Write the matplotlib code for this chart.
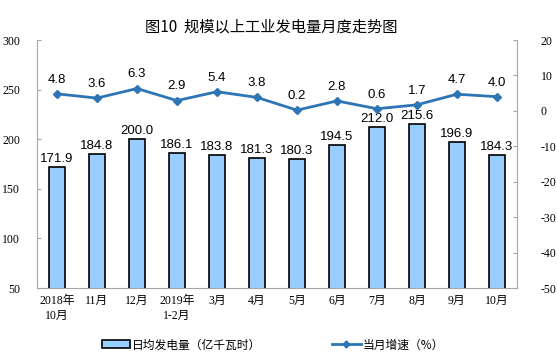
import matplotlib.pyplot as plt
import numpy as np
from matplotlib.lines import Line2D
from matplotlib.patches import Patch

# Data
months = ["2018年\n10月", "11月", "12月", "2019年\n1-2月", "3月", "4月",
          "5月", "6月", "7月", "8月", "9月", "10月"]
daily_output = [171.9, 184.8, 200.0, 186.1, 183.8, 181.3,
                180.3, 194.5, 212.0, 215.6, 196.9, 184.3]
growth = [4.8, 3.6, 6.3, 2.9, 5.4, 3.8, 0.2, 2.8, 0.6, 1.7, 4.7, 4.0]

plt.rcParams["font.family"] = ["Liberation Serif", "Noto Sans CJK SC"]
plt.rcParams["axes.unicode_minus"] = False

bar_color = "#99ccff"
line_color = "#2e75b6"
axis_gray = "#a6a6a6"

fig = plt.figure(figsize=(5.57, 3.62), dpi=100)
ax = fig.add_axes([0.0664, 0.2044, 0.8616, 0.6851])
ax2 = ax.twinx()

x = np.arange(len(months))
ax.bar(x, daily_output, width=0.4, color=bar_color, edgecolor="black",
       linewidth=1.2, zorder=2)
for xi, v in zip(x, daily_output):
    ax.text(xi, v + 2, "%.1f" % v, ha="center", va="bottom", fontsize=9.5,
            family=["Liberation Sans"])

ax2.plot(x, growth, color=line_color, lw=2, marker="D", ms=4.5, zorder=3)
for xi, v in zip(x, growth):
    ax2.text(xi, v + 2.3, "%.1f" % v, ha="center", va="bottom", fontsize=9.5,
             family=["Liberation Sans"])

ax.set_xlim(-0.5, len(months) - 0.5)
ax.set_ylim(50, 300)
ax.set_yticks(np.arange(50, 301, 50))
ax2.set_ylim(-50, 20)
ax2.set_yticks(np.arange(-50, 21, 10))
ax.set_xticks(x)
ax.set_xticklabels(months, fontsize=8.5, linespacing=1.3)

for a in (ax, ax2):
    for s in a.spines.values():
        s.set_visible(False)
    a.tick_params(axis="y", direction="in", length=3, color=axis_gray,
                  labelsize=8.5)
ax.tick_params(axis="y", pad=12)
ax2.tick_params(axis="y", pad=17)
ax.spines["left"].set_visible(True)
ax.spines["left"].set_color(axis_gray)
ax.spines["bottom"].set_visible(True)
ax.spines["bottom"].set_color(axis_gray)
ax2.spines["right"].set_visible(True)
ax2.spines["right"].set_color(axis_gray)
ax.tick_params(axis="x", length=0, pad=5)

fig.text(0.487, 0.925, "图10  规模以上工业发电量月度走势图", ha="center",
         va="center", fontsize=11, fontweight="medium",
         family=["Noto Sans CJK SC"])

handles = [Patch(facecolor=bar_color, edgecolor="black", linewidth=1.2),
           Line2D([], [], color=line_color, lw=2, marker="D", ms=3.5)]
labels = ["日均发电量（亿千瓦时）", "当月增速（%）"]
fig.legend(handles, labels, loc="center", bbox_to_anchor=(0.49, 0.047),
           ncol=2, frameon=False, columnspacing=6, handlelength=2.4,
           handletextpad=0.2, prop={"family": ["Noto Sans CJK SC"], "size": 8.5})

fig.savefig("out.png", dpi=100)
